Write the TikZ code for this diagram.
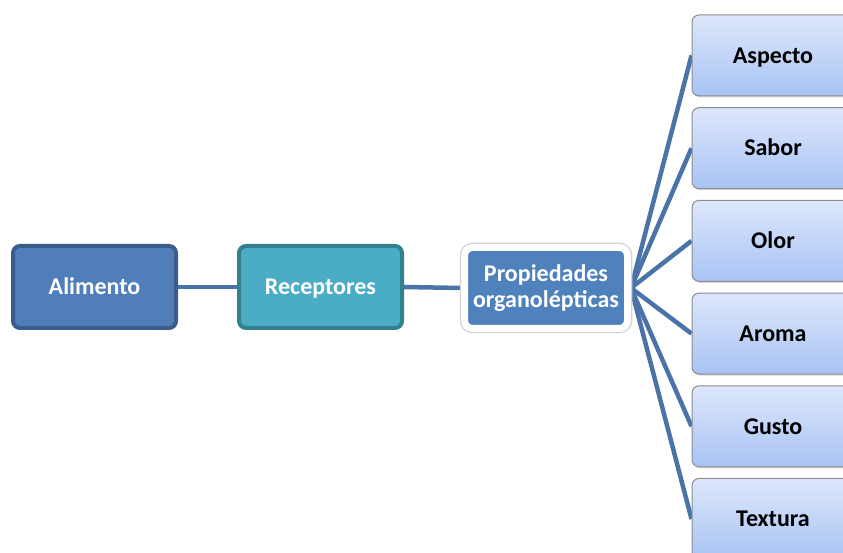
\documentclass[tikz,border=0pt]{standalone}
\usepackage{fontspec}
\setmainfont{Carlito}
\usepackage{tikz}
\usetikzlibrary{shadows,backgrounds}
\definecolor{alimblue}{HTML}{4F7EBA}
\definecolor{alimedge}{HTML}{3A5D8C}
\definecolor{recteal}{HTML}{4BACC6}
\definecolor{recedge}{HTML}{33808F}
\definecolor{propblue}{HTML}{4F81BD}
\definecolor{linkblue}{HTML}{4A74A8}
\definecolor{boxtop}{HTML}{DDE7FB}
\definecolor{boxbot}{HTML}{A8C3F4}
\definecolor{boxedge}{HTML}{8C8C8C}

\begin{document}
\begin{tikzpicture}[x=1pt,y=1pt,
  font=\fontsize{24}{27}\selectfont\bfseries,
  mainbox/.style={rounded corners=7pt,line width=4pt,minimum width=163pt,minimum height=82pt,text=white,
    text height=20pt,text depth=4.5pt},
  propbox/.style={rounded corners=8pt,fill=propblue,draw=white,line width=7pt,text=white,
    minimum width=163pt,minimum height=81pt,align=center,
    preaction={draw=black!18,line width=9.5pt}},
  itembox/.style={rounded corners=7pt,top color=boxtop,bottom color=boxbot,draw=boxedge,line width=1pt,
    minimum width=162pt,minimum height=81pt,text=black,text height=20pt,text depth=4.5pt,
    drop shadow={shadow xshift=1.5pt,shadow yshift=-1.5pt,opacity=0.3}},
  link/.style={linkblue,line width=4.5pt}]
\useasboundingbox (0,0) rectangle (843,553);
\clip (0,0) rectangle (843,553);
% left chain
\node[mainbox,fill=alimblue,draw=alimedge] (alim) at (94.5,266) {Alimento};
\node[mainbox,fill=recteal,draw=recedge] (recep) at (320.5,266) {Receptores};
\node[propbox] (prop) at (546,265) {Propiedades\\[-1pt]organolépticas};
% properties
\node[itembox] (aspecto) at (773,497.5) {Aspecto};
\node[itembox] (sabor) at (773,404.8) {Sabor};
\node[itembox] (olor) at (773,312.1) {Olor};
\node[itembox] (aroma) at (773,219.4) {Aroma};
\node[itembox] (gusto) at (773,126.7) {Gusto};
\node[itembox] (textura) at (773,34) {Textura};
\begin{scope}[on background layer]
\draw[link] (alim.east) -- (recep.west);
\draw[link] (recep.east) -- (prop.west);
\foreach \p in {aspecto,sabor,olor,aroma,gusto,textura}
  \draw[link] (prop.east) -- (\p.west);
\end{scope}
\end{tikzpicture}
\end{document}
